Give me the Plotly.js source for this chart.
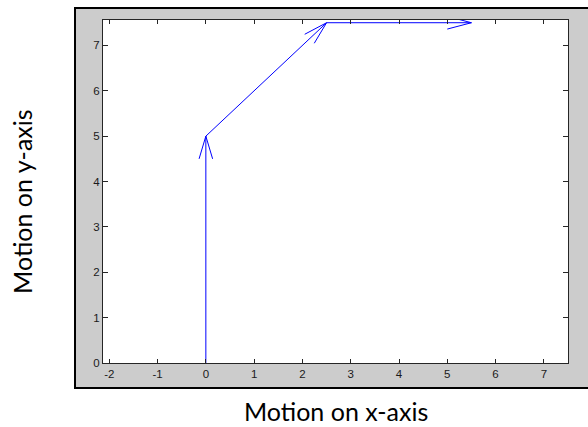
<!DOCTYPE html>
<html>
<head>
<meta charset="utf-8">
<script src="https://cdn.plot.ly/plotly-3.0.1.min.js"></script>
<style>html,body{margin:0;padding:0;background:#fff;}#chart{width:588px;height:427px;}</style>
</head>
<body>
<div id="chart"></div>
<script>
// Arrow data (quiver-style: start point + displacement)
const startX = [0, 0, 2.5];
const startY = [0, 5, 7.5];
const dX = [0, 2.5, 3];
const dY = [5, 2.5, 0];

const xTicks = [-2, -1, 0, 1, 2, 3, 4, 5, 6, 7];
const yTicks = [0, 1, 2, 3, 4, 5, 6, 7];

const xTitle = 'Motion on x-axis';
const yTitle = 'Motion on y-axis';

// style of arrow heads
const headBack = 0.5;
const headHalf = 0.14;

const shaftX = [], shaftY = [], headX = [], headY = [];
for (let i = 0; i < startX.length; i++) {
  const x0 = startX[i], y0 = startY[i];
  const x1 = x0 + dX[i], y1 = y0 + dY[i];
  shaftX.push(x0, x1, null);
  shaftY.push(y0, y1, null);
  const len = Math.hypot(dX[i], dY[i]);
  const ux = dX[i] / len, uy = dY[i] / len;
  const px = -uy, py = ux;
  headX.push(x1 - headBack * ux + headHalf * px, x1, x1 - headBack * ux - headHalf * px, null);
  headY.push(y1 - headBack * uy + headHalf * py, y1, y1 - headBack * uy - headHalf * py, null);
}

const traces = [
  {x: shaftX, y: shaftY, mode: 'lines', type: 'scatter', line: {color: '#0000ff', width: 1}, hoverinfo: 'skip'},
  {x: headX, y: headY, mode: 'lines', type: 'scatter', line: {color: '#0000ff', width: 1}, hoverinfo: 'skip'}
];

const tickFont = {family: 'Liberation Sans, Arial, sans-serif', size: 11.5, color: '#1a1a1a'};
const titleFont = {family: 'Lato, Open Sans, sans-serif', size: 25, color: '#000000'};

const layout = {
  width: 588, height: 427,
  margin: {l: 103, r: 20, t: 20, b: 64, pad: 0},
  paper_bgcolor: '#ffffff',
  plot_bgcolor: 'rgba(0,0,0,0)',
  showlegend: false,
  xaxis: {
    range: [-2.13, 7.5], tickvals: xTicks, ticktext: xTicks.map(String),
    ticks: 'inside', ticklen: 4, tickwidth: 1, tickcolor: '#262626',
    showline: true, linecolor: '#262626', linewidth: 1, mirror: 'ticks',
    showgrid: false, zeroline: false, tickfont: tickFont, fixedrange: true
  },
  yaxis: {
    range: [0, 7.56], tickvals: yTicks, ticktext: yTicks.map(String),
    ticks: 'inside', ticklen: 5, tickwidth: 1, tickcolor: '#262626',
    showline: true, linecolor: '#262626', linewidth: 1, mirror: 'ticks',
    showgrid: false, zeroline: false, tickfont: tickFont, fixedrange: true
  },
  shapes: [
    {type: 'rect', xref: 'paper', yref: 'paper', x0: -0.0602, x1: 1.06, y0: -0.0729, y1: 1.035,
     fillcolor: '#cccccc', line: {color: '#000000', width: 2}, layer: 'below'},
    {type: 'rect', xref: 'paper', yref: 'paper', x0: 0, x1: 1, y0: 0, y1: 1,
     fillcolor: '#ffffff', line: {width: 0}, layer: 'below'}
  ],
  annotations: [
    {text: xTitle, xref: 'paper', yref: 'paper', x: 0.5, y: -0.140, xanchor: 'center', yanchor: 'middle',
     showarrow: false, font: titleFont},
    {text: yTitle, xref: 'paper', yref: 'paper', x: -0.174, y: 0.47, xanchor: 'center', yanchor: 'middle',
     textangle: -90, showarrow: false, font: titleFont}
  ]
};

Plotly.newPlot('chart', traces, layout, {displayModeBar: false, staticPlot: true});
</script>
</body>
</html>
